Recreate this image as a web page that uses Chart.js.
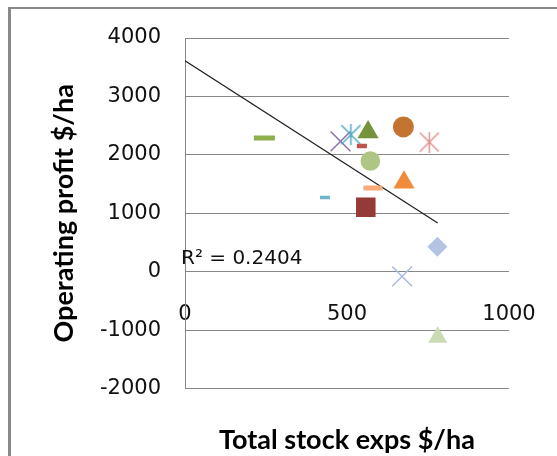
<!DOCTYPE html>
<html>
<head>
<meta charset="utf-8">
<script src="https://cdn.jsdelivr.net/npm/chart.js@4"></script>
<style>
  html, body { margin: 0; padding: 0; background: #fff; overflow: hidden; }
  #frame { position: absolute; left: 8px; top: 7px; width: 600px; height: 500px;
           border-left: 3px solid #898989; border-top: 2px solid #898989; }
  #wrap { position: absolute; left: 0; top: 0; width: 557px; height: 456px; }
</style>
</head>
<body>
<div id="frame"></div>
<div id="wrap"><canvas id="chart" width="557" height="456"></canvas></div>
<script>
// each farm is one point: total stock expenses vs operating profit ($/ha)
const stockExps = [245, 480, 512, 565, 546, 674, 754, 572, 676, 580, 432, 558, 779, 670, 780];
const opProfit = [2290, 2230, 2345, 2390, 2150, 2478, 2219, 1895, 1528, 1432, 1272, 1105, 428, -80, -1120];

// linear trend line as shown on the chart
const trendX = [0, 780];
const trendY = [3610, 833];
const rSquared = "0.2404";

const xTicks = [0, 500, 1000];
const yTicks = [-2000, -1000, 0, 1000, 2000, 3000, 4000];

// marker look, one per point
const markerColors = ["#8cae4b", "#8a6fae", "#4ea8c0", "#76923c", "#c0504d", "#c37431",
    "#e0928f", "#adc683", "#ef8b3a", "#f8aa7a", "#70b6cb", "#943a37", "#b3c3e2", "#a7bce0", "#cbdcb5"];
const markerShapes = ["line", "crossRot", "asterisk", "triangle", "line", "circle",
    "asterisk", "circle", "triangle", "line", "line", "rect", "rectRot", "crossRot", "triangle"];
const markerSizes = [10.5, 14, 10, 12.2, 5, 10.5, 10, 9.8, 12.2, 9.5, 5, 13.8, 10, 14, 11];
const markerLines = [5, 1.5, 1.5, 0, 4.5, 0, 1.5, 0, 0, 5, 3.5, 0, 0, 1.5, 0];

// Excel style star: an X plus a vertical stroke
function asterisk(color, size) {
    const c = document.createElement('canvas');
    c.width = size; c.height = size;
    const g = c.getContext('2d');
    g.strokeStyle = color;
    g.lineWidth = 1.5;
    g.beginPath();
    g.moveTo(1, 1); g.lineTo(size - 1, size - 1);
    g.moveTo(size - 1, 1); g.lineTo(1, size - 1);
    g.moveTo(size / 2, 0); g.lineTo(size / 2, size);
    g.stroke();
    return c;
}

const pointStyles = markerShapes.map((s, i) => s === "asterisk" ? asterisk(markerColors[i], 21) : s);

const points = stockExps.map((x, i) => ({ x: x, y: opProfit[i] }));
const trend = trendX.map((x, i) => ({ x: x, y: trendY[i] }));

const rLabel = {
    id: 'rLabel',
    afterDatasetsDraw(chart) {
        const ctx = chart.ctx;
        ctx.save();
        ctx.font = '20px "DejaVu Sans"';
        ctx.fillStyle = '#111';
        ctx.textBaseline = 'middle';
        ctx.fillText('R² = ' + rSquared, 181, 259);
        ctx.restore();
    }
};

Chart.defaults.color = '#111';
Chart.defaults.font.family = '"DejaVu Sans"';

const plain = (v) => String(v);

new Chart(document.getElementById('chart'), {
    type: 'scatter',
    data: {
        datasets: [
            {
                label: 'Farms',
                data: points,
                pointStyle: pointStyles,
                pointRadius: markerSizes,
                pointHoverRadius: markerSizes,
                pointBackgroundColor: markerColors,
                pointBorderColor: markerColors,
                pointBorderWidth: markerLines,
            },
            {
                label: 'Trend',
                type: 'line',
                data: trend,
                borderColor: '#1e1e1e',
                borderWidth: 1.2,
                pointRadius: 0,
                fill: false,
            }
        ]
    },
    options: {
        responsive: false,
        animation: false,
        devicePixelRatio: 1,
        layout: { padding: { left: 0, top: 38, right: 48, bottom: 0 } },
        plugins: {
            legend: { display: false },
            tooltip: { enabled: false },
        },
        scales: {
            x: {
                type: 'linear',
                position: 'bottom',
                min: 0,
                max: 1000,
                grid: { display: false, drawTicks: false },
                border: { display: false },
                ticks: { display: false },
                title: {
                    display: true,
                    text: 'Total stock exps $/ha',
                    font: { family: 'Lato', size: 27, weight: 'bold' },
                    color: '#000',
                    padding: { top: 35, bottom: 0 },
                },
            },
            xTicks: {
                type: 'linear',
                axis: 'x',
                position: { y: 0 },
                min: 0,
                max: 1000,
                afterBuildTicks: (scale) => { scale.ticks = xTicks.map(v => ({ value: v })); },
                // labels may hang into the side margins
                afterFit: (scale) => { scale.paddingLeft = 0; scale.paddingRight = 0; },
                grid: { display: false, drawTicks: false },
                border: { display: false },
                ticks: { padding: 30, font: { size: 21 }, maxRotation: 0, callback: plain },
            },
            y: {
                min: -2000,
                max: 4000,
                afterBuildTicks: (scale) => { scale.ticks = yTicks.map(v => ({ value: v })); },
                afterFit: (scale) => { scale.width = 185; },
                grid: { color: '#868686', lineWidth: 1, drawTicks: false },
                border: { color: '#868686', width: 1 },
                ticks: { padding: 24, font: { size: 21 }, callback: plain },
                title: {
                    display: true,
                    text: 'Operating profit $/ha',
                    font: { family: 'Lato', size: 27, weight: 'bold' },
                    color: '#000',
                    padding: { top: 48, bottom: 0 },
                },
            }
        }
    },
    plugins: [rLabel]
});
</script>
</body>
</html>
